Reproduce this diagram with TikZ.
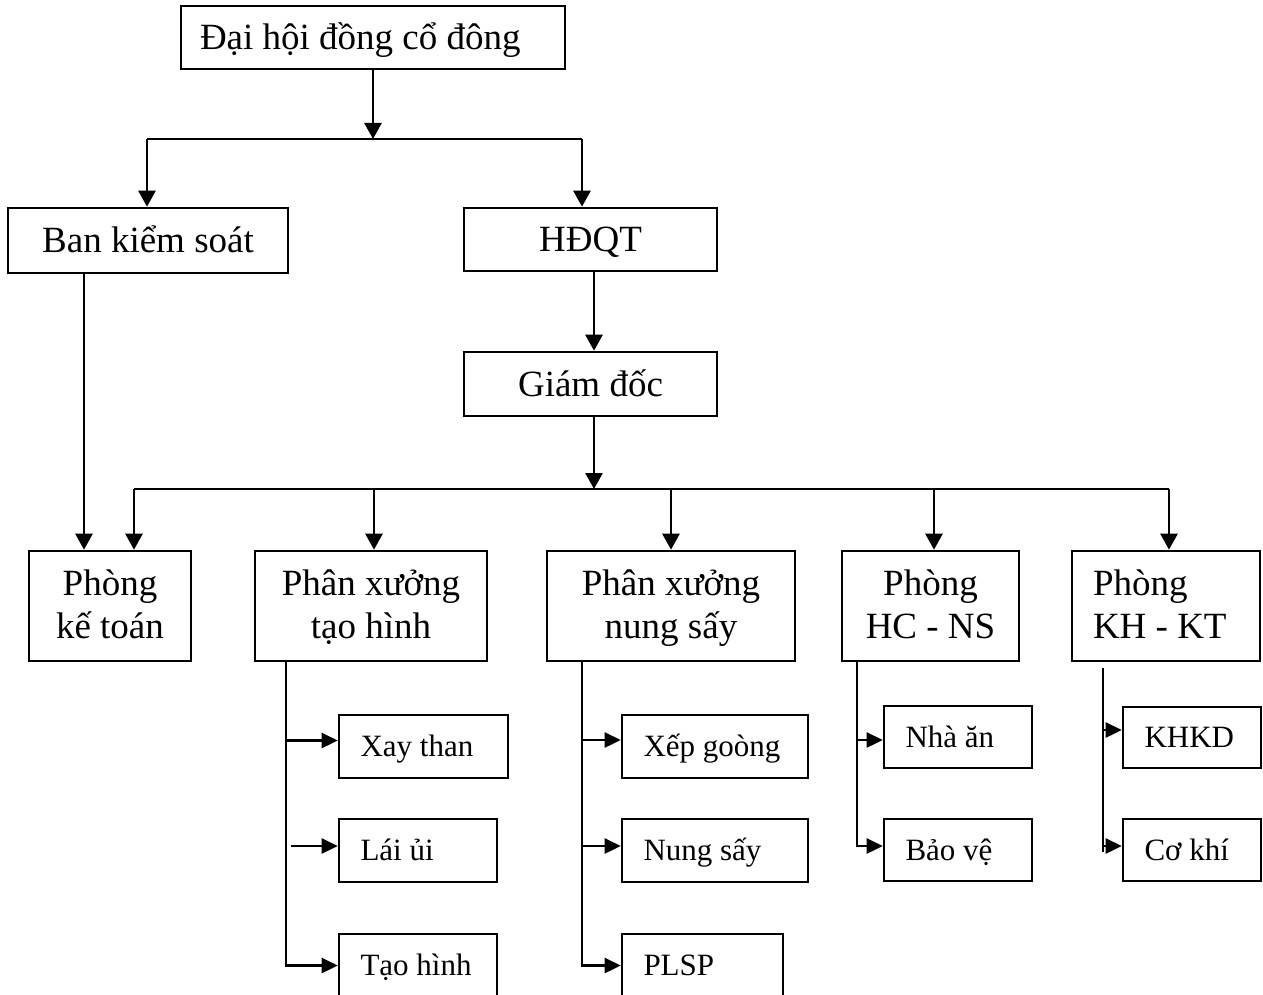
\documentclass[tikz,border=0pt]{standalone}
\usepackage{fontspec}
\setmainfont{Liberation Serif}
\usetikzlibrary{arrows.meta}
\newcommand\bigsize{\fontsize{37pt}{43pt}\selectfont}
\newcommand\smallsize{\fontsize{31pt}{36pt}\selectfont}
% two stacked lines with a fixed baseline distance, centred or flush left
\newcommand\PairC[2]{\vtop{\baselineskip=43pt\lineskiplimit=-1000pt\halign{\hfil##\hfil\cr#1\cr#2\cr}}}
\newcommand\PairL[2]{\vtop{\baselineskip=43pt\lineskiplimit=-1000pt\halign{##\hfil\cr#1\cr#2\cr}}}
% flush-left label inside a box of the given inner width
\newcommand\LeftIn[2]{\makebox[#1][l]{#2}}
\begin{document}
\begin{tikzpicture}[x=1pt,y=-1pt,line width=2.6pt,
  box/.style={draw,inner sep=0pt,font=\bigsize,text height=24.5pt,text depth=0pt},
  tall/.style={draw,inner sep=0pt,font=\bigsize,text height=24.5pt,text depth=46.5pt,minimum height=110pt},
  sub/.style={draw,inner sep=0pt,font=\smallsize,text height=20.5pt,text depth=0pt},
  arr/.style={-{Triangle[length=16pt,width=17pt]}},
  sarr/.style={-{Triangle[length=16pt,width=15pt]}}]
\useasboundingbox (0,0) rectangle (1263,995);

% upper levels
\node[box,minimum width=384pt,minimum height=63pt] (dhcd) at (373,37.5) {\LeftIn{346pt}{Đại hội đồng cổ đông}};
\node[box,minimum width=280pt,minimum height=65pt] (bks) at (148,240.5) {Ban kiểm soát};
\node[box,minimum width=253pt,minimum height=63pt] (hdqt) at (590.5,239.5) {HĐQT};
\node[box,minimum width=253pt,minimum height=64pt] (gd) at (590.5,384) {Giám đốc};

% departments
\node[tall,minimum width=162pt] (pkt) at (110,606) {\PairC{Phòng}{kế toán}};
\node[tall,minimum width=232pt] (pxth) at (371,606) {\PairC{Phân xưởng}{tạo hình}};
\node[tall,minimum width=248pt] (pxns) at (671,606) {\PairC{Phân xưởng}{nung sấy}};
\node[tall,minimum width=177pt] (hcns) at (930.5,606) {\PairC{Phòng}{HC - NS}};
\node[tall,minimum width=188pt] (khkt) at (1166,606) {\LeftIn{146pt}{\PairL{Phòng}{KH - KT}}};

% units
\node[sub,minimum width=169pt,minimum height=63pt] (xay) at (423.5,746.5) {\LeftIn{126pt}{Xay than}};
\node[sub,minimum width=158pt,minimum height=63pt] (laiui) at (418,850.5) {\LeftIn{115pt}{Lái ủi}};
\node[sub,minimum width=158pt,minimum height=63pt] (taohinh) at (418,965.5) {\LeftIn{115pt}{Tạo hình}};
\node[sub,minimum width=186pt,minimum height=63pt] (xep) at (715,746.5) {\LeftIn{143pt}{Xếp goòng}};
\node[sub,minimum width=186pt,minimum height=63pt] (nungsay) at (715,850.5) {\LeftIn{143pt}{Nung sấy}};
\node[sub,minimum width=161pt,minimum height=63pt] (plsp) at (702.5,965.5) {\LeftIn{118pt}{PLSP}};
\node[sub,minimum width=148pt,minimum height=62pt] (nhaan) at (958,737) {\LeftIn{105pt}{Nhà ăn}};
\node[sub,minimum width=148pt,minimum height=62pt] (baove) at (958,850) {\LeftIn{105pt}{Bảo vệ}};
\node[sub,minimum width=138pt,minimum height=61pt] (khkd) at (1192,737.5) {\LeftIn{95pt}{KHKD}};
\node[sub,minimum width=138pt,minimum height=62pt] (cokhi) at (1192,850) {\LeftIn{95pt}{Cơ khí}};

% top fork
\coordinate (t1) at (373,139);
\coordinate (t1l) at (147,139);
\coordinate (t1r) at (582,139);
\draw[arr] (dhcd.south) -- (t1);
\draw (t1l) -- (t1r);
\draw[arr] (t1l) -- (t1l |- bks.north);
\draw[arr] (t1r) -- (t1r |- hdqt.north);
\draw[arr] ([xshift=3.5pt]hdqt.south) -- ([xshift=3.5pt]gd.north);

% second fork
\coordinate (t2) at (594,489);
\coordinate (t2l) at (134,489);
\coordinate (t2r) at (1169,489);
\coordinate (t2a) at (374,489);
\coordinate (t2b) at (671,489);
\coordinate (t2c) at (934,489);
\draw[arr] ([xshift=3.5pt]gd.south) -- (t2);
\draw (t2l) -- (t2r);
\draw[arr] (t2l) -- (t2l |- pkt.north);
\draw[arr] (t2a) -- (t2a |- pxth.north);
\draw[arr] (t2b) -- (t2b |- pxns.north);
\draw[arr] (t2c) -- (t2c |- hcns.north);
\draw[arr] (t2r) -- (t2r |- khkt.north);

% supervisory line
\coordinate (kx) at (84,0);
\draw[arr] (kx |- bks.south) -- (kx |- pkt.north);

% forming workshop
\coordinate (ax) at (286,0);
\coordinate (ax2) at (291,0);
\draw[sarr] (ax |- pxth.south) |- (taohinh.west);
\draw[sarr] ([yshift=6pt]xay.west -| ax) -- ([yshift=6pt]xay.west);
\draw[sarr] ([yshift=4.5pt]laiui.west -| ax2) -- ([yshift=4.5pt]laiui.west);

% kiln workshop
\coordinate (bx) at (582,0);
\draw[sarr] (bx |- pxns.south) |- (plsp.west);
\draw[sarr] ([yshift=6.5pt]xep.west -| bx) -- ([yshift=6.5pt]xep.west);
\draw[sarr] ([yshift=4.5pt]nungsay.west -| bx) -- ([yshift=4.5pt]nungsay.west);

% administration
\coordinate (cx) at (857,0);
\draw[sarr] (cx |- hcns.south) |- ([yshift=4pt]baove.west);
\draw[sarr] ([yshift=-3pt]nhaan.west -| cx) -- ([yshift=-3pt]nhaan.west);

% planning
\coordinate (d1) at (1103,668);
\coordinate (d2) at (1103,852);
\draw (d1) -- (d2);
\draw[sarr] ([yshift=7.5pt]khkd.west -| d1) -- ([yshift=7.5pt]khkd.west);
\draw[sarr] ([yshift=4pt]cokhi.west -| d1) -- ([yshift=4pt]cokhi.west);
\end{tikzpicture}
\end{document}
